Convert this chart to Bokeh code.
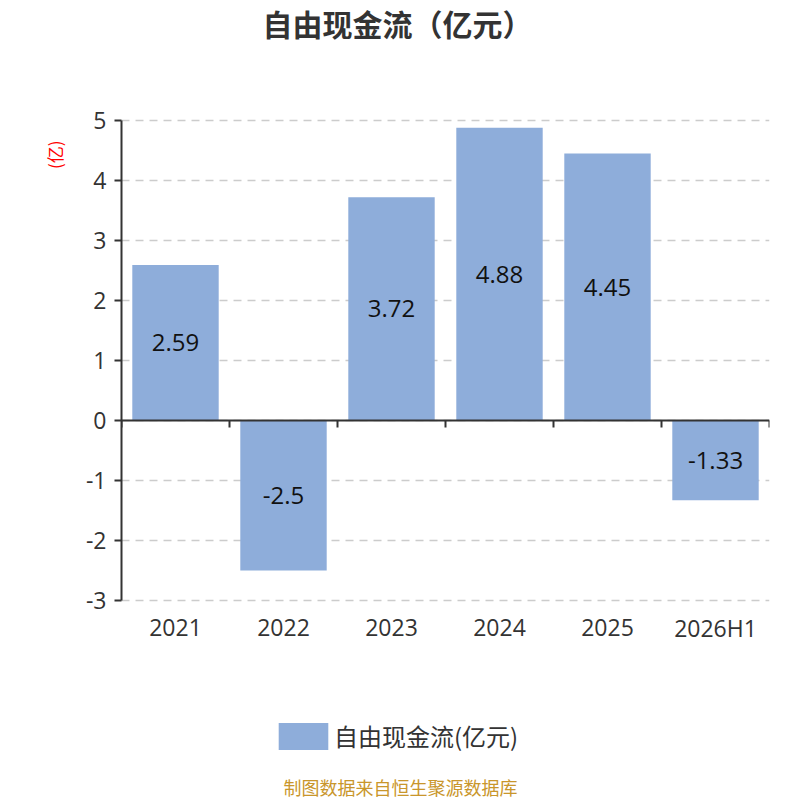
from bokeh.plotting import figure
from bokeh.models import (Range1d, FixedTicker, Span, Legend, LegendItem, Title, Label,
                          ColumnDataSource)
from bokeh.embed import file_html
from bokeh.resources import INLINE
from bokeh.core.properties import value

categories = ["2021", "2022", "2023", "2024", "2025", "2026H1"]
values = [2.59, -2.5, 3.72, 4.88, 4.45, -1.33]
value_labels = ["2.59", "-2.5", "3.72", "4.88", "4.45", "-1.33"]
y_ticks = [5, 4, 3, 2, 1, 0, -1, -2, -3]
y_tick_labels = ["5", "4", "3", "2", "1", "0", "-1", "-2", "-3"]
series_name = "自由现金流(亿元)"
title_text = "自由现金流（亿元）"
unit_text = "(亿)"
footer_text = "制图数据来自恒生聚源数据库"

CJK = "Noto Sans CJK SC"
NUM = "Open Sans"
BAR = "#8eadda"
AX = "#333333"

n = len(categories)
xs = [i + 0.5 for i in range(n)]
y_min, y_max = min(y_ticks), max(y_ticks)
PX = 60.0  # pixels per unit on the value axis
X_PX = 108.0  # pixels per category

# frame spans the full canvas height so that title, legend and footer are drawn inside it
y_lo = y_min - 200 / PX
y_hi = y_max + 120 / PX

p = figure(output_backend="svg", toolbar_location=None,
           x_range=Range1d(0, n), y_range=Range1d(y_lo, y_hi),
           min_border_left=121, min_border_right=31, min_border_top=0,
           min_border_bottom=0, frame_width=648, frame_height=800,
           title=None)
p.outline_line_color = None
p.background_fill_color = "white"
p.border_fill_color = "white"

src = ColumnDataSource(dict(x=xs, top=values, mid=[v / 2 for v in values], lab=value_labels))
bars = p.vbar(x="x", top="top", bottom=0, width=0.8, source=src,
              fill_color=BAR, line_color=None)
p.text(x="x", y="mid", text="lab", source=src, text_align="center", text_baseline="middle",
       text_font=value(NUM), text_font_size="24px", text_color="#111111")

# grid
p.xgrid.visible = False
p.ygrid.ticker = FixedTicker(ticks=y_ticks)
p.ygrid.grid_line_color = "#cccccc"
p.ygrid.grid_line_dash = "8 6"
p.ygrid.grid_line_width = 1.3

# y axis limited to the data range
p.yaxis.bounds = (y_min, y_max)
p.yaxis.ticker = FixedTicker(ticks=y_ticks)
p.yaxis.major_label_overrides = {t: s for t, s in zip(y_ticks, y_tick_labels)}
p.yaxis.axis_line_color = AX
p.yaxis.axis_line_width = 2
p.yaxis.major_tick_line_color = AX
p.yaxis.major_tick_line_width = 2
p.yaxis.major_tick_out = 7
p.yaxis.major_tick_in = 0
p.yaxis.minor_tick_line_color = None
p.yaxis.major_label_text_font = NUM
p.yaxis.major_label_text_font_size = "23px"
p.yaxis.major_label_text_color = AX
p.yaxis.major_label_standoff = 8

# unit label as a vertical title on the left, near the top of the axis
p.add_layout(Title(text=unit_text, align="right", offset=140, text_font=CJK,
                   text_font_size="17px", text_font_style="normal", text_color="red",
                   standoff=32), "left")

# x axis hidden; category labels drawn under the lowest tick
p.xaxis.visible = False
p.text(x=xs, y=[y_min - 27 / PX] * n, text=categories, text_align="center",
       text_baseline="middle", text_font=value(NUM), text_font_size="23px",
       text_color=AX)

# zero line and category boundary ticks
p.add_layout(Span(location=0, dimension="width", line_color=AX, line_width=2))
bounds = list(range(n + 1))
p.segment(x0=bounds, x1=bounds, y0=[0] * len(bounds), y1=[-7 / PX] * len(bounds),
          line_color=AX, line_width=2)

# title and footer
p.add_layout(Label(x=(397 - 121) / X_PX, y=y_hi - 22 / PX, text=title_text,
                   text_align="center", text_baseline="middle", text_font=CJK,
                   text_font_size="30px", text_font_style="bold", text_color=AX))
p.add_layout(Label(x=(400 - 121) / X_PX, y=y_hi - 786 / PX, text=footer_text,
                   text_align="center", text_baseline="middle", text_font=CJK,
                   text_font_size="18px", text_color="#c9962b"))

# legend
legend = Legend(items=[LegendItem(label=series_name, renderers=[bars])],
                location=(151, 47), orientation="horizontal",
                glyph_width=62, glyph_height=34, label_height=34,
                label_text_font=CJK, label_text_font_size="24px", label_text_color=AX,
                label_standoff=0, padding=0, margin=0, border_line_color=None,
                background_fill_alpha=0)
p.add_layout(legend)

open("out.html", "w").write(file_html(p, INLINE))
